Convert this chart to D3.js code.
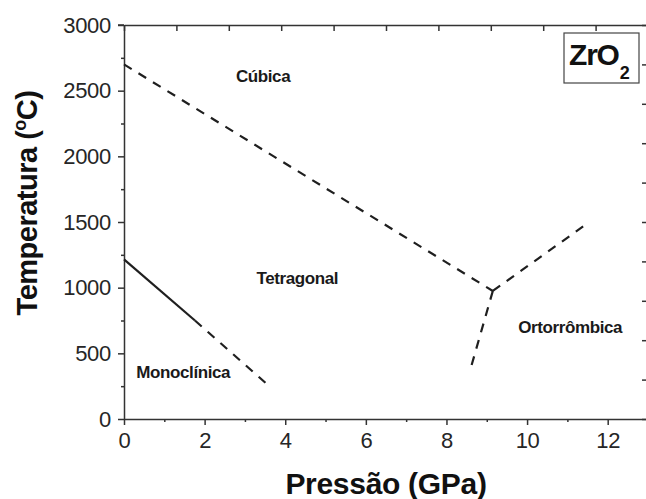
<!DOCTYPE html>
<html>
<head>
<meta charset="utf-8">
<script src="https://cdn.jsdelivr.net/npm/d3@7"></script>
<style>
  body { margin: 0; background: #fff; }
  svg { display: block; font-family: "Liberation Sans", Arial, sans-serif; }
  .axis path, .axis line { stroke: #333; stroke-width: 1.5; }
  .axis text { fill: #262626; font-size: 22px; letter-spacing: -0.3px; }
  .phase { font-weight: bold; font-size: 17px; fill: #1a1a1a; letter-spacing: -0.4px; }
  .boundary { fill: none; stroke: #1f1f1f; stroke-width: 2.2; }
</style>
</head>
<body>
<svg width="646" height="499"></svg>
<script>
const width = 646;
const height = 499;
const svg = d3.select("svg");

// phase fields
const phaseNames = ["Cúbica", "Tetragonal", "Monoclínica", "Ortorrômbica"];
const phaseP = [3.45, 4.3, 1.47, 11.07];
const phaseT = [2610, 1075, 358, 701];

// phase boundaries (GPa, °C)
const monoTetSolid = [[0, 1215], [1.76, 750]];
const monoTetDashed = [[1.76, 750], [3.55, 265]];
const cubicTet = [[0, 2700], [9.15, 975]];
const tetOrtho = [[9.15, 975], [8.6, 385]];
const cubicOrtho = [[9.15, 975], [11.5, 1490]];

const xMajor = [0, 2, 4, 6, 8, 10, 12];
const xMinor = [1, 3, 5, 7, 9, 11, 13];
const yMajor = [0, 500, 1000, 1500, 2000, 2500, 3000];
const yMinor = [250, 750, 1250, 1750, 2250, 2750];

const x = d3.scaleLinear().domain([0, 13]).range([124, 648]);
const y = d3.scaleLinear().domain([0, 3000]).range([419, 25]);
// unlabeled top/right frame scales
const xTop = d3.scaleLinear().domain([0, 10]).range([124, 648]);
const yRight = d3.scaleLinear().domain([0, 10]).range([419, 25]);

// minor ticks first
svg.append("g").attr("class", "axis")
    .attr("transform", `translate(0,${y(0)})`)
    .call(d3.axisBottom(x).tickValues(xMinor).tickSize(3).tickFormat(""))
    .select(".domain").remove();
svg.append("g").attr("class", "axis")
    .attr("transform", `translate(${x(0)},0)`)
    .call(d3.axisLeft(y).tickValues(yMinor).tickSize(3).tickFormat(""))
    .select(".domain").remove();

svg.append("g").attr("class", "axis")
    .attr("transform", `translate(0,${y(0)})`)
    .call(d3.axisBottom(x).tickValues(xMajor).tickSize(6).tickSizeOuter(0).tickPadding(7).tickFormat(d3.format("d")));

svg.append("g").attr("class", "axis")
    .attr("transform", `translate(${x(0)},0)`)
    .call(d3.axisLeft(y).tickValues(yMajor).tickSize(6).tickSizeOuter(0).tickPadding(7).tickFormat(d3.format("d")));

svg.append("g").attr("class", "axis")
    .attr("transform", `translate(0,${y(3000)})`)
    .call(d3.axisTop(xTop).ticks(10).tickSize(-6).tickSizeOuter(0).tickFormat(""));

svg.append("g").attr("class", "axis")
    .attr("transform", `translate(${x(13)},0)`)
    .call(d3.axisRight(yRight).ticks(10).tickSize(-6).tickSizeOuter(0).tickFormat(""));

// top line extends to the left as the 3000 tick
svg.append("line")
    .attr("x1", x(0) - 6).attr("x2", x(0))
    .attr("y1", y(3000)).attr("y2", y(3000))
    .attr("stroke", "#333").attr("stroke-width", 1.5);

const line = d3.line().x(d => x(d[0])).y(d => y(d[1]));

svg.append("path").attr("class", "boundary").attr("d", line(monoTetSolid));
[monoTetDashed, cubicTet, tetOrtho, cubicOrtho].forEach(seg => {
    svg.append("path")
        .attr("class", "boundary")
        .attr("stroke-dasharray", "9,8")
        .attr("d", line(seg));
});

svg.selectAll(".phase")
    .data(phaseNames)
    .enter()
    .append("text")
    .attr("class", "phase")
    .attr("x", (d, i) => x(phaseP[i]))
    .attr("y", (d, i) => y(phaseT[i]))
    .attr("dy", "0.35em")
    .attr("text-anchor", "middle")
    .text(d => d);

// ZrO2 box
svg.append("rect")
    .attr("x", 564).attr("y", 33).attr("width", 75).attr("height", 50)
    .attr("fill", "#fff").attr("stroke", "#444").attr("stroke-width", 1.2);
const formula = svg.append("text")
    .attr("x", 569).attr("y", 65)
    .attr("font-weight", "bold").attr("font-size", 30).attr("fill", "#111")
    .attr("letter-spacing", "-1.2px");
formula.append("tspan").text("ZrO");
formula.append("tspan").attr("font-size", 18).attr("dy", 14).attr("dx", 1).text("2");

// axis titles
svg.append("text")
    .attr("x", 386).attr("y", 494)
    .attr("text-anchor", "middle")
    .attr("font-weight", "bold").attr("font-size", 30).attr("fill", "#111")
    .attr("letter-spacing", "-0.3px")
    .text("Pressão (GPa)");

const yTitle = svg.append("text")
    .attr("transform", "translate(37,203) rotate(-90)")
    .attr("text-anchor", "middle")
    .attr("font-weight", "bold").attr("font-size", 29).attr("fill", "#111")
    .attr("letter-spacing", "-0.5px");
yTitle.append("tspan").text("Temperatura (");
yTitle.append("tspan").attr("font-size", 18).attr("dy", -11).text("o");
yTitle.append("tspan").attr("dy", 11).text("C)");
</script>
</body>
</html>
